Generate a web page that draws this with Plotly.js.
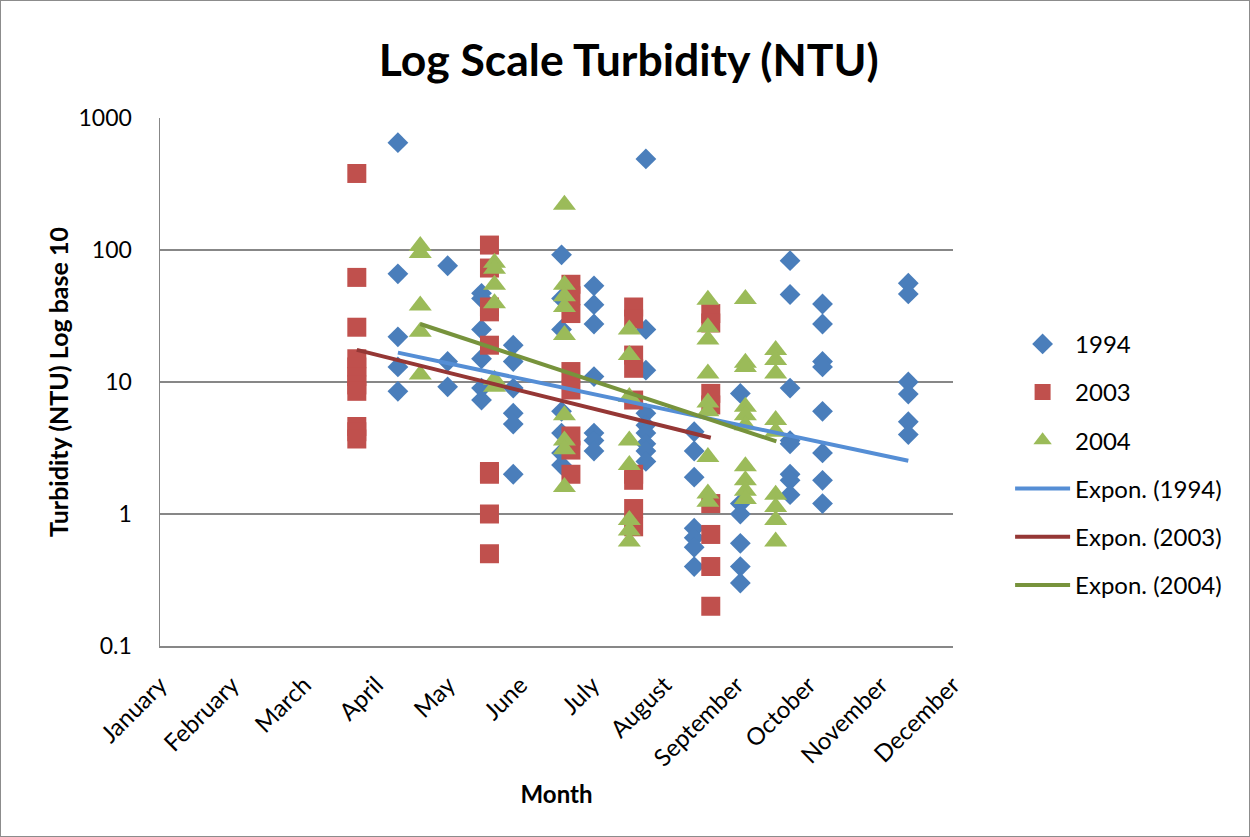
<!DOCTYPE html>
<html><head><meta charset="utf-8">
<script src="https://cdn.plot.ly/plotly-3.0.1.min.js"></script>
<style>
html,body{margin:0;padding:0;background:#fff;}
#wrap{position:relative;width:1250px;height:837px;}
#chart{width:1250px;height:837px;}
#frame{position:absolute;left:0;top:0;width:1250px;height:837px;box-sizing:border-box;border:1px solid #8c8c8c;pointer-events:none;}
</style></head><body>
<div id="wrap"><div id="chart"></div><div id="frame"></div></div>
<script>
// Tick labels (month names) and their positions on the month axis
const months = ["January","February","March","April","May","June","July","August","September","October","November","December"];
const monthPos = [1,2,3,4,5,6,7,8,9,10,11,12];
const yTickVals = [0.1, 1, 10, 100, 1000];
const yTickText = ["0.1", "1", "10", "100", "1000"];

// 1994 samples (month position, turbidity NTU)
const x1994 = [4.30,4.30,4.30,4.30,4.30, 4.99,4.99,4.99, 5.46,5.46,5.46,5.46,5.46,5.46,
  5.90,5.90,5.90,5.90,5.90,5.90, 6.57,6.57,6.57,6.57,6.57,6.57,6.57, 7.02,7.02,7.02,7.02,7.02,7.02,7.02,
  7.74,7.74,7.74,7.74,7.74,7.74,7.74,7.74,7.74, 8.41,8.41,8.41,8.41,8.41,8.41,8.41,
  9.05,9.05,9.05,9.05,9.05,9.05, 9.74,9.74,9.74,9.74,9.74,9.74,9.74,9.74,
  10.19,10.19,10.19,10.19,10.19,10.19,10.19,10.19, 11.38,11.38,11.38,11.38,11.38,11.38];
const y1994 = [650,66,22,13,8.5, 76,14.3,9.2, 47,43,25,15,9,7.3,
  19,14.3,9,5.8,4.8,2.0, 92,43,25,6,4.1,2.9,2.35, 53.5,38.5,27.5,11,4.1,3.6,3.0,
  490,25,12.3,5.8,4.7,4.1,3.4,3.0,2.5, 4.2,3.0,1.9,0.78,0.66,0.56,0.40,
  8.2,1.2,1.0,0.6,0.4,0.3, 83,46,9,3.6,3.4,2.0,1.8,1.4,
  39,27.5,14.3,13,6,2.9,1.8,1.2, 56,46.5,10,8.1,5.0,4.0];

// 2003 samples
const x2003 = [3.73,3.73,3.73,3.73,3.73,3.73,3.73,3.73,3.73,3.73,3.73,
  5.57,5.57,5.57,5.57,5.57,5.57,5.57,5.57,5.57, 6.70,6.70,6.70,6.70,6.70,6.70,6.70,6.70,
  7.57,7.57,7.57,7.57,7.57,7.57,7.57,7.57,7.57, 8.64,8.64,8.64,8.64,8.64,8.64,8.64,8.64];
const y2003 = [380,62,26,15,13,11,9.5,8.5,4.6,4.2,3.7,
  109,73,37,34,19,2.1,2.0,1.0,0.5, 55,45,33,12,8.7,3.9,3.05,2.0,
  37,30,16,12.7,7.3,2.0,1.8,1.1,0.8, 33,28,8.2,6.7,1.2,0.7,0.4,0.2];

// 2004 samples
const x2004 = [4.61,4.61,4.61,4.61,4.61, 5.64,5.64,5.64,5.64,5.64,5.64,
  6.61,6.61,6.61,6.61,6.61,6.61,6.61,6.61,6.61, 7.51,7.51,7.51,7.51,7.51,7.51,7.51,7.51,
  8.60,8.60,8.60,8.60,8.60,8.60,8.60,8.60,8.60, 9.12,9.12,9.12,9.12,9.12,9.12,9.12,9.12,9.12,9.12,
  9.54,9.54,9.54,9.54,9.54,9.54,9.54,9.54,9.54];
const y2004 = [107,95,38,24,11.4, 80,72,54.5,39.5,10.4,9.2,
  220,54.5,44.7,37,22.7,5.6,3.6,3.1,1.6, 25,16,7.7,3.6,2.35,0.9,0.75,0.62,
  42,26,21,11.6,7,6,2.7,1.43,1.24, 42.5,14,13,6.5,5.6,4.7,2.3,1.8,1.5,1.3,
  17.5,14.7,11.6,5.15,4.2,1.4,1.13,0.9,0.62];

// Exponential trendline end values (start, end)
const trendX1994 = [4.30, 11.38];
const trendY1994 = [16.7, 2.53];
const trendX2003 = [3.73, 8.64];
const trendY2003 = [17.5, 3.78];
const trendX2004 = [4.61, 9.55];
const trendY2004 = [27.5, 3.55];

const FONT = "Lato, 'Open Sans', sans-serif";
const traces = [
  {x: x1994, y: y1994, name: "1994", type: "scatter", mode: "markers", legendgroup: "a",
   marker: {symbol: "diamond", size: 16, color: "#4A7EBB", line: {width: 0}}},
  {x: x2003, y: y2003, name: "2003", type: "scatter", mode: "markers", legendgroup: "b",
   marker: {symbol: "square", size: 19, color: "#C0504D", line: {width: 0}}},
  {x: x2004, y: y2004, name: "2004", type: "scatter", mode: "markers", legendgroup: "c",
   marker: {symbol: "triangle-up", size: 20, color: "#9BBB59", line: {width: 0}}},
  {x: trendX1994, y: trendY1994, name: "Expon. (1994)", type: "scatter", mode: "lines", legendgroup: "d",
   line: {color: "#558ED5", width: 4}},
  {x: trendX2003, y: trendY2003, name: "Expon. (2003)", type: "scatter", mode: "lines", legendgroup: "e",
   line: {color: "#953735", width: 4}},
  {x: trendX2004, y: trendY2004, name: "Expon. (2004)", type: "scatter", mode: "lines", legendgroup: "f",
   line: {color: "#77933C", width: 4}}
];

const layout = {
  width: 1250, height: 837,
  margin: {l: 160, r: 297, t: 118, b: 191, pad: 0},
  paper_bgcolor: "#fff", plot_bgcolor: "#fff",
  font: {family: FONT, color: "#000", size: 23},
  title: {text: "Log Scale Turbidity (NTU)", font: {family: FONT, size: 44.5, weight: "bold", color: "#000"},
          xref: "container", x: 0.503, yref: "container", y: 0.928, yanchor: "middle"},
  xaxis: {
    type: "linear", range: [1, 12], tickmode: "array", tickvals: monthPos, ticktext: months,
    tickangle: -45, showgrid: false, zeroline: false, showline: true, linecolor: "#878787", linewidth: 1.5,
    ticks: "", ticklabelstandoff: 14, tickfont: {size: 24},
    title: {text: "Month", font: {size: 24, weight: "bold"}, standoff: 15}
  },
  yaxis: {
    type: "log", range: [-1, 3], tickmode: "array", tickvals: yTickVals, ticktext: yTickText,
    showgrid: true, gridcolor: "#878787", gridwidth: 1.5, zeroline: false,
    showline: true, linecolor: "#878787", linewidth: 1.5,
    ticks: "", ticklabelstandoff: 22, tickfont: {size: 23},
    title: {text: "Turbidity (NTU) Log base 10", font: {size: 25, weight: "bold"}, standoff: 3}
  },
  legend: {x: 1.072, xanchor: "left", y: 0.614, yanchor: "top", font: {size: 24},
           bgcolor: "rgba(0,0,0,0)", borderwidth: 0, tracegroupgap: 14, itemwidth: 55, traceorder: "grouped"},
  showlegend: true
};

Plotly.newPlot("chart", traces, layout, {displayModeBar: false, staticPlot: true});
</script>
</body></html>
